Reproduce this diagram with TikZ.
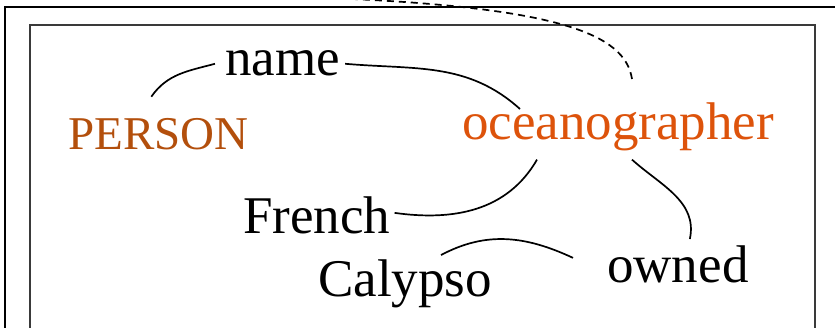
\documentclass[tikz,border=0pt]{standalone}
\usepackage{fontspec}
\setmainfont{Liberation Serif}
\definecolor{personbrown}{HTML}{B34F0C}
\definecolor{oceanorange}{HTML}{DD530B}
\definecolor{framegray}{HTML}{3A3A3A}

\begin{document}
\begin{tikzpicture}[x=1pt,y=1pt,
	word/.style={inner sep=0pt, anchor=base west, font=\fontsize{53}{60}\selectfont},
	link/.style={line width=1.7pt}]
	\useasboundingbox (0,0) rectangle (835,-328);
	\clip (0,0) rectangle (835,-328);
	% the two frames
	\draw[line width=2.2pt] (5,-7) rectangle (870,-370);
	\draw[framegray, line width=2.4pt] (30,-25) rectangle (815,-370);
	
	\node[word, text=personbrown, font=\fontsize{47}{55}\selectfont] (PERSON) at (68,-150) {PERSON};
	\node[word] (name) at (225,-76) {name};
	\node[word, text=oceanorange] (ocean) at (462,-140) {oceanographer};
	\node[word] (French) at (243,-234) {French};
	\node[word] (Calypso) at (318,-297) {Calypso};
	\node[word] (owned) at (607,-283) {owned};
	\coordinate (up) at (300,3);
	
	\draw[link] ([shift={(-7,22)}]PERSON.north) to[out=55,in=195] ([xshift=-10pt]name.west);
	\draw[link] ([xshift=5pt]name.east) to[out=-5,in=138] ([shift={(58,-6)}]ocean.north west);
	\draw[link] ([shift={(75,-8)}]ocean.south west) to[out=-120,in=-8] ([shift={(4,3)}]French.east);
	\draw[link] ([shift={(170,-8)}]ocean.south west) to[out=-42,in=78] ([shift={(12,7)}]owned.north);
	\draw[link] ([shift={(36,5)}]Calypso.north) to[out=28,in=155] ([shift={(-34,7)}]owned.west);
	
	% dashed link running off the top
	\draw[link, dash pattern=on 7pt off 5pt] ([shift={(170,24)}]ocean.north west) .. controls +(-7,45) and +(260,-8) .. (up);
\end{tikzpicture}
\end{document}
